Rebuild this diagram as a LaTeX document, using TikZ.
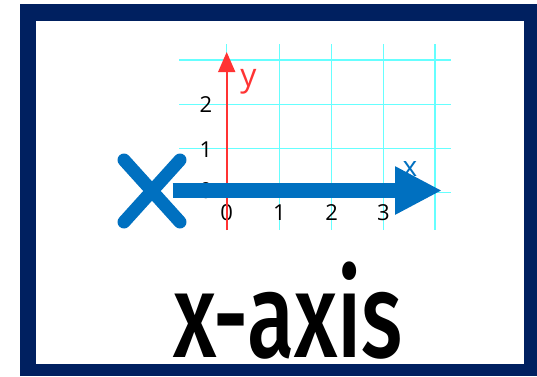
\documentclass[tikz,border=0pt]{standalone}
\usepackage{fontspec}
\setmainfont{Open Sans}
\newfontfamily\capfont{Fira Sans}[UprightFont={* Medium}]
\usetikzlibrary{arrows.meta}
\definecolor{navy}{HTML}{002060}
\definecolor{arrowblue}{HTML}{0070C0}
\definecolor{gridcyan}{HTML}{66FFFF}
\definecolor{axisred}{HTML}{FF3333}
\begin{document}
\begin{tikzpicture}[x=1pt, y=-1pt,
  tick/.style={font=\fontsize{22}{22}\selectfont, inner sep=0pt},
  gridline/.style={gridcyan, line width=1.3pt}]
  \useasboundingbox (0,0) rectangle (537,376);
  % frame
  \fill[navy] (20,4) rectangle (537,376);
  \fill[white] (36,21) rectangle (524,364);
  % grid
  \foreach \x in {226.7,279.5,331.7,383.3,435}
    \draw[gridline] (\x,44) -- (\x,230);
  \foreach \y in {60,104.3,148.3,192.3}
    \draw[gridline] (179,\y) -- (451,\y);
  % tick labels
  \foreach \n/\y in {0/191,1/150,2/105}
    \node[tick] (yt\n) at (206,\y) {\n};
  \foreach \n/\x in {0/226.7,1/279.5,2/331.7,3/383.3}
    \node[tick] (xt\n) at (\x,213) {\n};
  % y axis
  \coordinate (ybot) at (226.7,230);
  \coordinate (ytop) at (226.7,52);
  \draw[axisred, line width=1.6pt, -{Triangle[length=20pt, width=17pt]}] (ybot) -- (ytop);
  \node[text=axisred, font=\fontsize{32}{32}\selectfont, inner sep=0pt] (ylbl) at (248.5,82) {y};
  \node[text=arrowblue, font=\fontsize{28}{28}\selectfont, inner sep=0pt] (xlbl) at (410,169) {x};
  % big X
  \coordinate (bxa) at (124,160);
  \coordinate (bxb) at (180,222);
  \coordinate (bxc) at (180,160);
  \coordinate (bxd) at (124,222);
  \draw[arrowblue, line width=13pt, line cap=round] (bxa) -- (bxb) (bxc) -- (bxd);
  % x axis arrow
  \coordinate (xstart) at (172.7,190.5);
  \coordinate (xend) at (442,190.5);
  \draw[arrowblue, line width=15.6pt, -{Triangle[length=47pt, width=45pt]}] (xstart) -- (xend);
  % caption
  \node[anchor=base, inner sep=0pt, font=\fontsize{120}{120}\selectfont\capfont] (caption) at (288,357)
    {\scalebox{0.72}[1]{x-axis}};
\end{tikzpicture}
\end{document}
